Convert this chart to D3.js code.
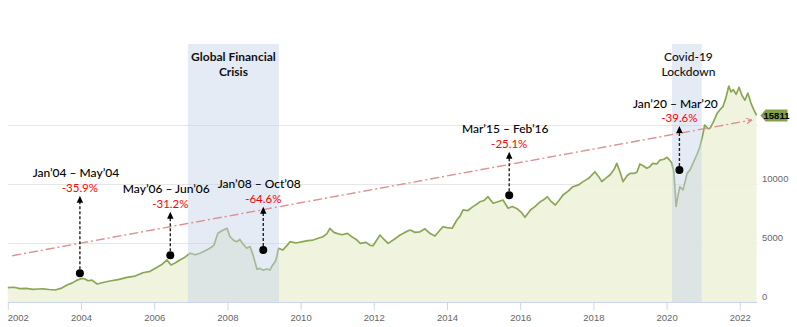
<!DOCTYPE html>
<html>
<head>
<meta charset="utf-8">
<script src="https://cdn.jsdelivr.net/npm/d3@7"></script>
<style>
  html, body { margin: 0; padding: 0; background: #fff; }
  svg { display: block; }
</style>
</head>
<body>
<svg id="chart" width="797" height="327"></svg>
<script>
// ---------- DATA ----------
const years = [
  2002.00,2002.17,2002.33,2002.50,2002.69,2002.83,2002.96,2003.13,2003.29,2003.45,2003.62,2003.75,2003.89,
  2004.03,2004.11,2004.19,2004.30,2004.44,2004.60,2004.79,2005.01,2005.26,2005.48,2005.69,2005.89,
  2006.08,2006.22,2006.35,2006.46,2006.57,2006.70,2006.84,2006.98,2007.12,2007.25,2007.39,2007.52,2007.63,2007.74,2007.85,2007.99,
  2008.07,2008.18,2008.26,2008.34,2008.43,2008.53,2008.62,2008.70,2008.81,2008.89,2008.97,
  2009.08,2009.16,2009.24,2009.32,2009.40,2009.51,2009.62,2009.71,2009.87,
  2010.06,2010.20,2010.34,2010.48,2010.61,2010.72,2010.80,2010.91,2010.99,
  2011.13,2011.28,2011.41,2011.52,2011.63,2011.79,2011.90,2011.98,
  2012.09,2012.17,2012.28,2012.39,2012.55,2012.72,2012.85,2012.99,
  2013.13,2013.26,2013.40,2013.54,2013.67,2013.81,2013.89,
  2014.00,2014.14,2014.27,2014.36,2014.44,2014.57,2014.71,2014.82,2014.90,
  2015.01,2015.12,2015.26,2015.39,2015.53,2015.67,2015.78,2015.92,
  2016.03,2016.13,2016.28,2016.41,2016.55,2016.66,2016.74,2016.85,2016.96,
  2017.06,2017.17,2017.31,2017.44,2017.58,2017.72,2017.88,
  2018.04,2018.15,2018.23,2018.34,2018.45,2018.56,2018.64,2018.73,2018.81,2018.92,
  2019.00,2019.11,2019.19,2019.27,2019.38,2019.46,2019.54,2019.62,2019.73,2019.82,2019.93,
  2020.01,2020.09,2020.14,2020.20,2020.26,2020.31,2020.36,2020.45,2020.56,2020.64,2020.72,2020.83,2020.91,2020.99,
  2021.04,2021.13,2021.18,2021.27,2021.38,2021.46,2021.54,2021.62,2021.70,2021.76,2021.82,2021.90,2021.98,
  2022.06,2022.14,2022.22,2022.30,2022.38,2022.46
];
const values = [
  1210,1250,1130,1150,1075,1100,1120,1060,1015,1150,1440,1600,1850,
  2000,1950,1800,1850,1525,1650,1780,1900,2090,2200,2480,2600,
  2940,3200,3560,3140,3300,3560,3800,4130,4000,4130,4350,4550,4800,5820,6040,6250,
  5530,5200,5110,5300,4900,4550,4700,3980,2770,2850,2700,
  2800,2710,3140,3500,4550,4400,4750,5110,5000,
  5110,5200,5250,5400,5530,5800,6245,5900,5820,
  5700,5820,5500,5300,4970,5050,4800,4770,
  5300,5680,5300,4970,5300,5680,5900,6100,
  5900,5950,6200,5800,5590,6100,6380,
  6300,6250,6950,7300,7800,7750,8080,8300,8500,
  8600,8925,8365,8500,8640,7940,8100,7900,
  7600,7180,7800,8100,8500,8700,8925,8500,8220,
  8600,9070,9400,9770,9900,10200,10500,
  11040,10600,10200,10500,10760,11200,11750,11000,10200,10700,
  10900,10900,11000,11700,11500,11330,11470,11750,11700,12030,12100,
  12260,12000,11800,11000,8100,9000,9770,9500,10900,11200,11750,12500,13160,14200,
  15000,14700,14720,15200,15990,16300,16550,17300,18300,17800,18000,17600,18200,
  17500,17100,17700,16900,16300,15811
];
const lastValue = 15811;

const xTicks = [2002,2004,2006,2008,2010,2012,2014,2016,2018,2020,2022];
const yTicks = [0,5000,10000];
const gridValues = [5000,10000,15000];

const bandStarts = [2006.92, 2020.15];
const bandEnds   = [2009.41, 2020.96];
const bandTitles = [["Global Financial","Crisis"],["Covid-19","Lockdown"]];

const dropPeriods = ["Jan\u201904 \u2013 May\u201904","May\u201906 \u2013 Jun\u201906","Jan\u201908 \u2013 Oct\u201908","Mar\u201915 \u2013 Feb\u201916","Jan\u201920 \u2013 Mar\u201920"];
const dropPcts    = ["-35.9%","-31.2%","-64.6%","-25.1%","-39.6%"];
const dropYears   = [2003.97, 2006.44, 2008.98, 2015.70, 2020.35];
const dropValues  = [2430, 3960, 4410, 9040, 11190];
const dropTips    = [9010, 7650, 8080, 12740, 14920];

const trendYears  = [2002.12, 2022.33];
const trendValues = [3924, 15425];

// ---------- LAYOUT ----------
const svg = d3.select("#chart");
const plotLeft = 7.8, plotRight = 757.5, plotBottom = 302, bandTop = 44;
const x = d3.scaleLinear().domain([2002, 2022]).range([7.8, 739.8]);
const y = d3.scaleLinear().domain([0, 15000]).range([302, 125]);

const data = years.map((d, i) => ({ t: d, v: values[i] }));

// gridlines
svg.append("g").selectAll("line").data(gridValues).join("line")
  .attr("x1", plotLeft).attr("x2", plotRight)
  .attr("y1", d => y(d) + 0.5).attr("y2", d => y(d) + 0.5)
  .attr("stroke", "#e6e6e6").attr("stroke-width", 1);

// area
svg.append("path").datum(data)
  .attr("d", d3.area().x(d => x(d.t)).y0(y(0)).y1(d => y(d.v)))
  .attr("fill", "#eff3dc").attr("fill-opacity", 0.92);

// line
svg.append("path").datum(data)
  .attr("d", d3.line().x(d => x(d.t)).y(d => y(d.v)))
  .attr("fill", "none").attr("stroke", "#8ba655").attr("stroke-width", 1.7)
  .attr("stroke-linejoin", "round");

// bands
svg.append("g").selectAll("rect").data(bandStarts).join("rect")
  .attr("x", (d) => x(d))
  .attr("width", (d, i) => x(bandEnds[i]) - x(d))
  .attr("y", bandTop).attr("height", plotBottom - bandTop)
  .attr("fill", "rgb(195,210,233)").attr("fill-opacity", 0.45);

// band titles
const bt = svg.append("g").attr("font-family", "Lato, 'Open Sans', sans-serif")
  .attr("font-size", 12).attr("fill", "#111").attr("text-anchor", "middle");
bandTitles.forEach((lines, i) => {
  const cx = (x(bandStarts[i]) + x(bandEnds[i])) / 2;
  lines.forEach((s, j) => {
    bt.append("text").attr("x", cx + (i === 1 ? 1.5 : 0)).attr("y", 61 + j * 14.5)
      .attr("font-weight", i === 0 ? "bold" : "500").text(s);
  });
});

// x axis
const xAxis = svg.append("g").attr("transform", `translate(0,${plotBottom})`)
  .call(d3.axisBottom(x).tickValues(xTicks).tickFormat(d3.format("d")).tickSize(8).tickPadding(4));
xAxis.select(".domain").attr("d", `M${plotLeft},0.5H${plotRight}`).attr("stroke", "#ccd6eb");
xAxis.selectAll(".tick line").attr("stroke", "#ccd6eb");
xAxis.selectAll(".tick text").attr("fill", "#666").attr("font-size", 9.5)
  .attr("font-family", "'Liberation Sans', Arial, sans-serif");
xAxis.selectAll(".tick text").filter(d => d === 2002).attr("x", 10);

// y axis (right)
const yAxis = svg.append("g").attr("transform", `translate(${plotRight},0)`)
  .call(d3.axisRight(y).tickValues(yTicks).tickFormat(d3.format("d")).tickSize(0).tickPadding(4.5));
yAxis.select(".domain").remove();
yAxis.selectAll(".tick text").attr("fill", "#666").attr("font-size", 9.5)
  .attr("font-family", "'Liberation Sans', Arial, sans-serif").attr("y", -5.5);

// trend line (dash-dot) with arrow
const defs = svg.append("defs");
defs.append("marker").attr("id", "trendArrow").attr("viewBox", "0 0 10 10")
  .attr("refX", 9).attr("refY", 5).attr("markerWidth", 7).attr("markerHeight", 7)
  .attr("markerUnits", "userSpaceOnUse").attr("orient", "auto")
  .append("path").attr("d", "M1,1 L9,5 L1,9").attr("fill", "none")
  .attr("stroke", "#dc9191").attr("stroke-width", 1.8);
svg.append("line")
  .attr("x1", x(trendYears[0])).attr("y1", y(trendValues[0]))
  .attr("x2", x(trendYears[1])).attr("y2", y(trendValues[1]))
  .attr("stroke", "#dc9191").attr("stroke-width", 1.4)
  .attr("stroke-dasharray", "9,3,2,3")
  .attr("marker-end", "url(#trendArrow)");

// drawdown annotations
const ann = svg.append("g");
dropYears.forEach((t, i) => {
  const cx = x(t), cy = y(dropValues[i]), ty = y(dropTips[i]);
  ann.append("line").attr("x1", cx).attr("x2", cx).attr("y1", cy - 4).attr("y2", ty + 6)
    .attr("stroke", "#222").attr("stroke-width", 1.4).attr("stroke-dasharray", "3,2");
  ann.append("path").attr("d", `M${cx},${ty} L${cx + 3.2},${ty + 7} L${cx - 3.2},${ty + 7} Z`)
    .attr("fill", "#000");
  ann.append("circle").attr("cx", cx).attr("cy", cy).attr("r", 4).attr("fill", "#000");
  ann.append("text").attr("x", cx).attr("y", ty - 8).attr("dy", "0.35em")
    .attr("text-anchor", "middle").attr("font-family", "Lato, 'Open Sans', sans-serif")
    .attr("font-size", 11.5).attr("fill", "#ff0000").text(dropPcts[i]);
  ann.append("text").attr("x", cx - 4).attr("y", ty - 22.5).attr("dy", "0.35em")
    .attr("text-anchor", "middle").attr("font-family", "Lato, 'Open Sans', sans-serif")
    .attr("font-size", 12).attr("font-weight", "500").attr("fill", "#000").text(dropPeriods[i]);
});

// last value flag
const fy = y(lastValue);
const flag = svg.append("g");
flag.append("path")
  .attr("d", `M${plotRight + 3},${fy} L${plotRight + 8},${fy - 6} H${plotRight + 30} V${fy + 6} H${plotRight + 8} Z`)
  .attr("fill", "#83a04a");
flag.append("text").attr("x", plotRight + 19).attr("y", fy).attr("dy", "0.35em")
  .attr("text-anchor", "middle").attr("font-family", "'Liberation Sans', Arial, sans-serif")
  .attr("font-size", 9.5).attr("font-weight", "bold").attr("fill", "#000").text(d3.format("d")(lastValue));
</script>
</body>
</html>
